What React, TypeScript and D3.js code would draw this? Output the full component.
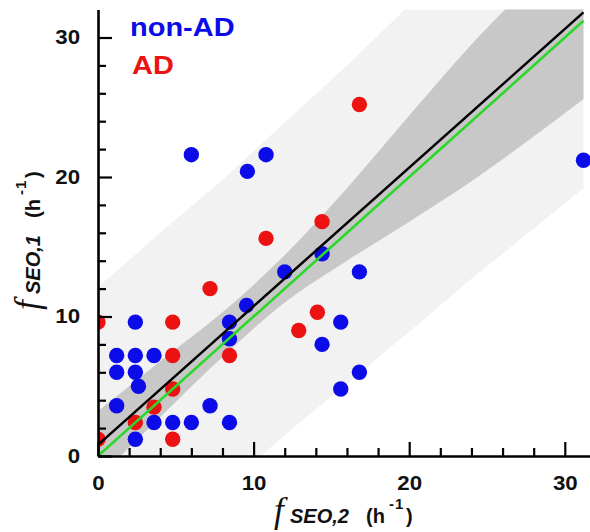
import React, { useEffect, useRef } from "react";
import * as d3 from "d3";

// non-AD subjects (blue)
const nonAdX = [2.4, 8.45, 8.45, 1.2, 2.4, 3.6, 1.2, 2.4, 2.6, 1.2, 7.2, 3.6, 4.8, 6.0, 8.45, 2.4, 9.55, 15.6, 14.4, 16.8, 15.6, 6.0, 10.8, 9.6, 12.0, 16.8, 14.4, 31.2];
const nonAdY = [9.6, 9.6, 8.4, 7.2, 7.2, 7.2, 6.0, 6.0, 5.0, 3.6, 3.6, 2.4, 2.4, 2.4, 2.4, 1.2, 10.8, 9.6, 8.0, 6.0, 4.8, 21.6, 21.6, 20.4, 13.2, 13.2, 14.5, 21.2];

// AD subjects (red)
const adX = [0, 4.8, 4.8, 8.45, 4.8, 3.6, 2.4, 0, 4.8, 14.1, 12.9, 7.2, 10.8, 14.4, 16.8];
const adY = [9.6, 9.6, 7.2, 7.2, 4.8, 3.5, 2.4, 1.2, 1.2, 10.3, 9.0, 12.0, 15.6, 16.8, 25.2];

// regression bands
const bandX = [0, 4, 8, 12, 16, 20, 24, 28, 31.2];
const ciLow = [-1.6, 2.8, 7.1, 11.0, 14.0, 16.8, 19.7, 22.9, 25.6];
const ciHigh = [3.2, 6.8, 10.3, 14.4, 19.2, 24.4, 29.5, 34.1, 37.8];
const piLow = [-10.5, -6.4, -2.4, 1.5, 5.2, 8.9, 12.7, 16.3, 19.2];
const piHigh = [12.1, 16.0, 19.8, 23.9, 28.0, 32.3, 36.5, 40.7, 44.2];

// fit line (black) and identity line (green)
const fitX = [0, 31.2];
const fitY = [0.8, 31.8];
const identityY = [0, 31.2];

const majorTicks = [0, 10, 20, 30];
const minorTicks = [2, 4, 6, 8, 12, 14, 16, 18, 22, 24, 26, 28];
const tickLabels = ["0", "10", "20", "30"];

const legendNames = ["non-AD", "AD"];
const legendColors = ["#0c0ce8", "#ec1212"];

const SX = 1.115; // the figure is slightly stretched horizontally

export default function App() {
  const svgRef = useRef<SVGSVGElement>(null);

  useEffect(() => {
    document.body.style.margin = "0";
    const width = 590;
    const height = 532;

    const svg = d3.select(svgRef.current);
    svg.selectAll("*").remove();
    svg.attr("width", width).attr("height", height);

    const xScale = d3.scaleLinear().domain([0, 32]).range([98, 98 + 32 * 15.56]);
    const yScale = d3.scaleLinear().domain([0, 32]).range([456, 456 - 32 * 13.95]);

    svg
      .append("defs")
      .append("clipPath")
      .attr("id", "plot-clip")
      .append("rect")
      .attr("x", xScale(0))
      .attr("y", yScale(32))
      .attr("width", xScale(32) - xScale(0))
      .attr("height", yScale(0) - yScale(32));

    const plot = svg.append("g").attr("clip-path", "url(#plot-clip)");

    const bandIdx = bandX.map((_, i) => i);

    // prediction band
    const piArea = d3
      .area<number>()
      .x((i) => xScale(bandX[i]))
      .y0((i) => yScale(piLow[i]))
      .y1((i) => yScale(piHigh[i]));
    plot.append("path").datum(bandIdx).attr("fill", "#f2f2f2").attr("d", piArea);

    // confidence band
    const ciArea = d3
      .area<number>()
      .x((i) => xScale(bandX[i]))
      .y0((i) => yScale(ciLow[i]))
      .y1((i) => yScale(ciHigh[i]))
      .curve(d3.curveMonotoneX);
    plot.append("path").datum(bandIdx).attr("fill", "#c8c8c8").attr("d", ciArea);

    // points: AD first, non-AD on top
    plot
      .selectAll(".ad")
      .data(adX.map((d, i) => [d, adY[i]]))
      .enter()
      .append("circle")
      .attr("cx", (d) => xScale(d[0]))
      .attr("cy", (d) => yScale(d[1]))
      .attr("r", 7.7)
      .attr("fill", legendColors[1]);

    plot
      .selectAll(".nonad")
      .data(nonAdX.map((d, i) => [d, nonAdY[i]]))
      .enter()
      .append("circle")
      .attr("cx", (d) => xScale(d[0]))
      .attr("cy", (d) => yScale(d[1]))
      .attr("r", 7.7)
      .attr("fill", legendColors[0]);

    const line = d3
      .line<[number, number]>()
      .x((d) => xScale(d[0]))
      .y((d) => yScale(d[1]));

    plot
      .append("path")
      .datum(fitX.map((d, i) => [d, fitY[i]] as [number, number]))
      .attr("fill", "none")
      .attr("stroke", "#000")
      .attr("stroke-width", 2.5)
      .attr("d", line);

    plot
      .append("path")
      .datum(fitX.map((d, i) => [d, identityY[i]] as [number, number]))
      .attr("fill", "none")
      .attr("stroke", "#2ad82a")
      .attr("stroke-width", 2.6)
      .attr("d", line);

    const font = "'Liberation Sans', Arial, sans-serif";

    // minor ticks
    const xMinor = svg
      .append("g")
      .attr("transform", `translate(0,${yScale(0)})`)
      .call(d3.axisBottom(xScale).tickValues(minorTicks).tickSize(-8).tickFormat(() => ""));
    xMinor.select(".domain").remove();

    const yMinor = svg
      .append("g")
      .attr("transform", `translate(${xScale(0)},0)`)
      .call(d3.axisLeft(yScale).tickValues(minorTicks).tickSize(-8).tickFormat(() => ""));
    yMinor.select(".domain").remove();

    // major ticks + labels
    const xAxis = svg
      .append("g")
      .attr("transform", `translate(0,${yScale(0)})`)
      .call(
        d3
          .axisBottom(xScale)
          .tickValues(majorTicks)
          .tickSize(-14)
          .tickSizeOuter(0)
          .tickPadding(20)
          .tickFormat((_, i) => tickLabels[i])
      );

    const yAxis = svg
      .append("g")
      .attr("transform", `translate(${xScale(0)},0)`)
      .call(
        d3
          .axisLeft(yScale)
          .tickValues(majorTicks)
          .tickSize(-14)
          .tickSizeOuter(0)
          .tickPadding(16)
          .tickFormat((_, i) => tickLabels[i])
      );

    [xAxis, yAxis, xMinor, yMinor].forEach((g) => {
      g.selectAll(".tick line").attr("stroke", "#000").attr("stroke-width", 2.2);
      g.select(".domain").attr("stroke", "#000").attr("stroke-width", 2.6);
    });
    [xAxis, yAxis].forEach((g) => {
      g.selectAll(".tick text")
        .attr("fill", "#111")
        .attr("font-family", font)
        .attr("font-weight", "bold")
        .attr("font-size", 20)
        .attr("transform", `scale(${SX},1)`);
    });

    // legend
    legendNames.forEach((name, i) => {
      svg
        .append("text")
        .attr("transform", `translate(${i === 0 ? 130 : 132},${36 + i * 38}) scale(${SX},1)`)
        .attr("fill", legendColors[i])
        .attr("font-family", font)
        .attr("font-weight", "bold")
        .attr("font-size", 26)
        .text(name);
    });

    // axis titles
    const title = (g: d3.Selection<SVGGElement, unknown, null, undefined>, sub: string) => {
      const piece = (t: string, x: number, y: number, size: number, italic: boolean, serif = false) =>
        g
          .append("text")
          .attr("x", x)
          .attr("y", y)
          .attr("fill", "#111")
          .attr("font-family", serif ? "'Liberation Serif', 'Times New Roman', serif" : font)
          .attr("font-weight", serif ? "normal" : "bold")
          .attr("font-style", italic ? "italic" : "normal")
          .attr("font-size", size)
          .text(t);
      piece("f", -2, -1, 35, true, true);
      piece(sub, 14, 0, 20, true);
      piece("(h", 90, 0, 20, false);
      piece("-", 113, -14, 15, false);
      piece("1", 119, -14, 15, false);
      piece(")", 130, 0, 20, false);
    };

    title(svg.append("g").attr("transform", "translate(276,523)"), "SEO,2");
    title(svg.append("g").attr("transform", "translate(40,308) rotate(-90)"), "SEO,1");
  }, []);

  return <svg ref={svgRef} style={{ display: "block" }} />;
}
